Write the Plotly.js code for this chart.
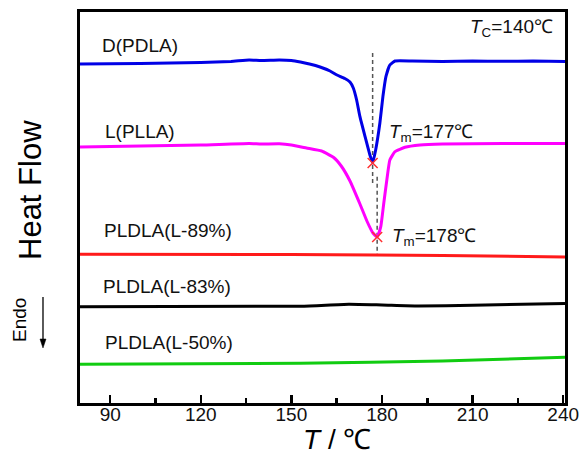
<!DOCTYPE html>
<html>
<head>
<meta charset="utf-8">
<script src="https://cdn.plot.ly/plotly-3.0.1.min.js"></script>
<style>html,body{margin:0;padding:0;background:#fff;}#chart{width:581px;height:457px;}</style>
</head>
<body>
<div id="chart"></div>
<script>
// Temperature (°C) and heat flow (arbitrary units, curves offset vertically)
const pdlaT = [80, 100, 120, 130, 136, 140, 146, 150, 153, 156, 159.5, 162.8, 165.1, 167.7, 169.4, 170.5, 171.6, 172.7, 174.4, 176.0, 176.9, 177.9, 179.3, 180.3, 181.3, 182.6, 184.3, 190, 200, 210, 220, 230, 240.6];
const pdlaY = [33.9, 33.95, 34.05, 34.15, 34.3, 34.25, 34.3, 34.25, 34.1, 33.9, 33.6, 33.2, 32.8, 32.45, 32.1, 31.5, 30.3, 28.63, 26.63, 24.8, 24.0, 25.3, 28.0, 30.63, 32.63, 33.8, 34.2, 34.2, 34.15, 34.2, 34.17, 34.2, 34.15];

const pllaT = [80, 100, 120, 136, 140, 146, 150, 155, 160, 164, 166.5, 169.4, 172.7, 175.0, 177.0, 178.4, 179.6, 180.6, 181.6, 182.6, 184.3, 187.6, 192.6, 200, 220, 240.6];
const pllaY = [25.6, 25.7, 25.8, 25.95, 25.9, 25.92, 25.8, 25.5, 25.2, 24.55, 23.7, 22.2, 19.9, 18.2, 17.0, 16.6, 17.63, 20.0, 22.3, 24.3, 25.13, 25.57, 25.8, 25.9, 25.95, 25.95];

const l89T = [80, 150, 178, 200, 240.6];
const l89Y = [14.87, 14.85, 14.8, 14.75, 14.6];

const l83T = [80, 153, 169, 180, 192, 210, 240.6];
const l83Y = [9.63, 9.68, 9.88, 9.8, 9.7, 9.78, 9.95];

const l50T = [80, 153, 200, 240.6];
const l50Y = [3.87, 3.97, 4.2, 4.57];

const peakT = [176.9, 178.4];
const peakY = [24.0, 16.6];
const dash1Y = [35.0, 21.8];
const dash2Y = [22.63, 14.8];

const xTicks = [90, 120, 150, 180, 210, 240];
const seriesNames = ['D(PDLA)', 'L(PLLA)', 'PLDLA(L-89%)', 'PLDLA(L-83%)', 'PLDLA(L-50%)'];
const labelT = [86.6, 87.7, 87.2, 87.0, 87.7];
const labelY = [35.8, 27.13, 17.3, 11.7, 6.03];

const FONT = 'Arial, "Liberation Sans", sans-serif';
const lw = 3;

const traces = [
  {x: [peakT[0], peakT[0]], y: dash1Y, mode: 'lines', line: {color: '#555', width: 1.5, dash: '4px,3px'}, showlegend: false, hoverinfo: 'skip'},
  {x: [peakT[1], peakT[1]], y: dash2Y, mode: 'lines', line: {color: '#555', width: 1.5, dash: '4px,3px'}, showlegend: false, hoverinfo: 'skip'},
  {x: pdlaT, y: pdlaY, name: seriesNames[0], mode: 'lines', line: {color: '#0000e6', width: lw, shape: 'spline', smoothing: 0.4}},
  {x: pllaT, y: pllaY, name: seriesNames[1], mode: 'lines', line: {color: '#ff00ff', width: lw, shape: 'spline', smoothing: 0.4}},
  {x: l89T, y: l89Y, name: seriesNames[2], mode: 'lines', line: {color: '#ff1a1a', width: lw, shape: 'spline', smoothing: 0.5}},
  {x: l83T, y: l83Y, name: seriesNames[3], mode: 'lines', line: {color: '#000000', width: lw, shape: 'spline', smoothing: 0.5}},
  {x: l50T, y: l50Y, name: seriesNames[4], mode: 'lines', line: {color: '#11cc11', width: lw, shape: 'spline', smoothing: 0.5}},
  {x: peakT, y: peakY, mode: 'markers', marker: {symbol: 'x-thin', size: 10, line: {color: '#ff3030', width: 1.5}}, showlegend: false}
];

const annotations = seriesNames.map((n, i) => ({
  x: labelT[i], y: labelY[i], xref: 'x', yref: 'y', text: n, showarrow: false,
  xanchor: 'left', yanchor: 'middle', font: {family: FONT, size: 19, color: '#111'}
}));
annotations.push(
  {x: 237.3, y: 37.47, xref: 'x', yref: 'y', text: '<i>T</i><sub>C</sub>=140℃', showarrow: false, xanchor: 'right', yanchor: 'middle', font: {family: FONT, size: 19, color: '#111'}},
  {x: 181.6, y: 27.0, xref: 'x', yref: 'y', text: '<i>T</i><sub>m</sub>=177℃', showarrow: false, xanchor: 'left', yanchor: 'middle', font: {family: FONT, size: 19, color: '#111'}},
  {x: 182.6, y: 16.63, xref: 'x', yref: 'y', text: '<i>T</i><sub>m</sub>=178℃', showarrow: false, xanchor: 'left', yanchor: 'middle', font: {family: FONT, size: 19, color: '#111'}},
  {x: -0.101, y: 0.5448, xref: 'paper', yref: 'paper', text: 'Heat Flow', textangle: -90, showarrow: false, xanchor: 'center', yanchor: 'middle', font: {family: FONT, size: 31, color: '#000'}},
  {x: -0.1237, y: 0.2123, xref: 'paper', yref: 'paper', text: 'Endo', textangle: -90, showarrow: false, xanchor: 'center', yanchor: 'middle', font: {family: FONT, size: 19, color: '#000'}},
  {x: 0.53, y: -0.0946, xref: 'paper', yref: 'paper', text: '<i>T</i> / ℃', showarrow: false, xanchor: 'center', yanchor: 'middle', font: {family: FONT, size: 28, color: '#000'}}
);

// Endo arrow (paper coordinates, left of the plot)
const arrowX = -0.0763;
const shapes = [
  {type: 'line', xref: 'paper', yref: 'paper', x0: arrowX, x1: arrowX, y0: 0.2711, y1: 0.158, line: {color: '#000', width: 1.3}},
  {type: 'path', xref: 'paper', yref: 'paper', path: `M ${arrowX - 0.0062} 0.1637 L ${arrowX + 0.0062} 0.1637 L ${arrowX} 0.1407 Z`, fillcolor: '#000', line: {color: '#000', width: 0.5}}
];

const layout = {
  width: 581, height: 457,
  margin: {l: 80, r: 16, t: 12, b: 54},
  paper_bgcolor: '#fff', plot_bgcolor: '#fff',
  showlegend: false,
  font: {family: FONT, color: '#000'},
  xaxis: {
    range: [80, 240.6], tickvals: xTicks, ticktext: xTicks.map(String),
    ticks: 'inside', ticklen: 8, tickwidth: 2.5, tickcolor: '#000',
    minor: {dtick: 30, tick0: 105, ticks: 'inside', ticklen: 5, tickwidth: 2.5, tickcolor: '#000'},
    showline: true, linewidth: 3, linecolor: '#000', mirror: true,
    showgrid: false, zeroline: false,
    ticklabelstandoff: -8,
    tickfont: {family: FONT, size: 19, color: '#111'}
  },
  yaxis: {
    range: [0, 39.1], showticklabels: false, ticks: '',
    showline: true, linewidth: 3, linecolor: '#000', mirror: true,
    showgrid: false, zeroline: false
  },
  shapes: shapes,
  annotations: annotations
};

Plotly.newPlot('chart', traces, layout, {displayModeBar: false, staticPlot: true});
</script>
</body>
</html>
